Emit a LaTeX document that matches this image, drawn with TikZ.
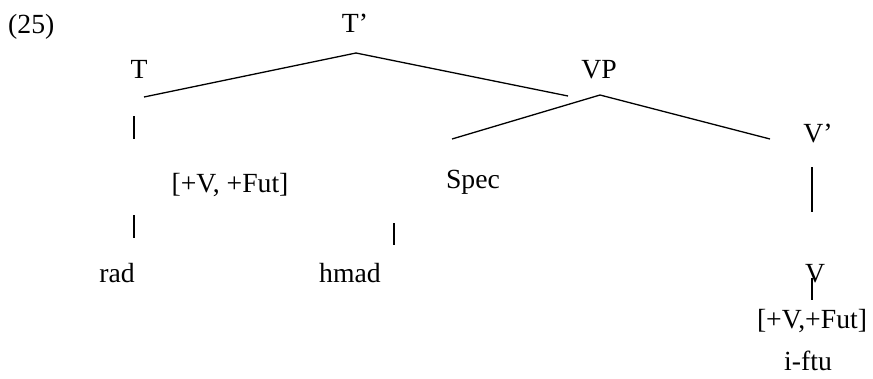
\documentclass[tikz,border=0pt]{standalone}
\usepackage{fontspec}
\setmainfont{Liberation Serif}
\begin{document}
\begin{tikzpicture}[x=1pt,y=-1pt,
  lbl/.style={anchor=base,inner sep=0pt,font=\fontsize{27.7}{33}\selectfont},
  branch/.style={line width=1.3pt},
  stem/.style={line width=2pt}]
\useasboundingbox (0,0) rectangle (873,378);
% labels
\node[lbl,anchor=base west] (num) at (8,33) {(25)};
\node[lbl] (Tbar) at (355,32) {T’};
\node[lbl] (T) at (139,78) {T};
\node[lbl] (VP) at (599,78) {VP};
\node[lbl] (Vbar) at (818,142) {V’};
\node[lbl] (Spec) at (473,188) {Spec};
\node[lbl] (featT) at (230,192) {[+V, +Fut]};
\node[lbl] (rad) at (117,282) {rad};
\node[lbl] (hmad) at (350,282) {hmad};
\node[lbl] (V) at (815,282) {V};
\node[lbl] (featV) at (812,328) {[+V,+Fut]};
\node[lbl] (iftu) at (808,370) {i-ftu};
% branch end points
\coordinate (TbarTop) at (356,53);
\coordinate (TEnd) at (144,97);
\coordinate (VPEnd) at (568,96);
\coordinate (VPTop) at (600,95);
\coordinate (SpecEnd) at (452,139);
\coordinate (VbarEnd) at (770,139);
\coordinate (Ta) at (134,116);   \coordinate (Tb) at (134,139);
\coordinate (Ra) at (134,215);   \coordinate (Rb) at (134,238);
\coordinate (Ha) at (394,223);   \coordinate (Hb) at (394,245);
\coordinate (VBa) at (812,167);  \coordinate (VBb) at (812,212);
\coordinate (Va) at (812,278);   \coordinate (Vb) at (812,300);
% branches
\draw[branch] (TEnd) -- (TbarTop) -- (VPEnd);
\draw[branch] (SpecEnd) -- (VPTop) -- (VbarEnd);
% vertical stems
\draw[stem] (Ta) -- (Tb);
\draw[stem] (Ra) -- (Rb);
\draw[stem] (Ha) -- (Hb);
\draw[stem] (VBa) -- (VBb);
\draw[stem] (Va) -- (Vb);
\end{tikzpicture}
\end{document}
